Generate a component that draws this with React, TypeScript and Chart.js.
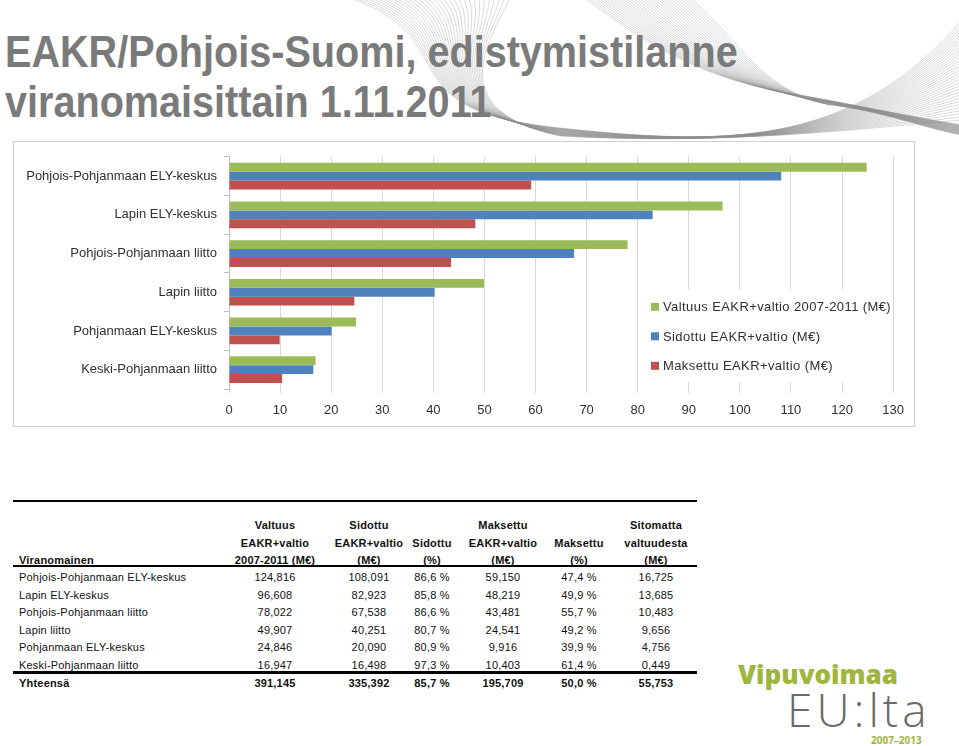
import React, { useEffect, useRef } from "react";
import { Chart, registerables } from "chart.js";

Chart.register(...registerables);

// ---------- data ----------
const categories = [
  "Pohjois-Pohjanmaan ELY-keskus",
  "Lapin ELY-keskus",
  "Pohjois-Pohjanmaan liitto",
  "Lapin liitto",
  "Pohjanmaan ELY-keskus",
  "Keski-Pohjanmaan liitto",
];
const seriesLabels = [
  "Valtuus EAKR+valtio 2007-2011 (M€)",
  "Sidottu EAKR+valtio (M€)",
  "Maksettu EAKR+valtio (M€)",
];
const valtuus = [124.816, 96.608, 78.022, 49.907, 24.846, 16.947];
const sidottu = [108.091, 82.923, 67.538, 40.251, 20.09, 16.498];
const maksettu = [59.15, 48.219, 43.481, 24.541, 9.916, 10.403];
const seriesColors = ["#9bbb59", "#4f81bd", "#c0504d"];
const xMin = 0;
const xMax = 130;
const xStep = 10;

// table texts
const valtuusText = ["124,816", "96,608", "78,022", "49,907", "24,846", "16,947"];
const sidottuText = ["108,091", "82,923", "67,538", "40,251", "20,090", "16,498"];
const sidottuPct = ["86,6 %", "85,8 %", "86,6 %", "80,7 %", "80,9 %", "97,3 %"];
const maksettuText = ["59,150", "48,219", "43,481", "24,541", "9,916", "10,403"];
const maksettuPct = ["47,4 %", "49,9 %", "55,7 %", "49,2 %", "39,9 %", "61,4 %"];
const sitomattaText = ["16,725", "13,685", "10,483", "9,656", "4,756", "0,449"];
const totalRow = ["Yhteensä", "391,145", "335,392", "85,7 %", "195,709", "50,0 %", "55,753"];
const headerLines = [
  ["", "", "Viranomainen"],
  ["Valtuus", "EAKR+valtio", "2007-2011 (M€)"],
  ["Sidottu", "EAKR+valtio", "(M€)"],
  ["", "Sidottu", "(%)"],
  ["Maksettu", "EAKR+valtio", "(M€)"],
  ["", "Maksettu", "(%)"],
  ["Sitomatta", "valtuudesta", "(M€)"],
];

const FONT = "'Liberation Sans', Arial, Helvetica, sans-serif";

const insideLegend = {
  id: "insideLegend",
  afterDraw(chart: any) {
    const ctx = chart.ctx as CanvasRenderingContext2D;
    const a = chart.chartArea;
    ctx.save();
    ctx.fillStyle = "#ffffff";
    ctx.fillRect(a.left + 416, a.top + 133, 248, 92);
    ctx.font = `13px ${FONT}`;
    (ctx as any).letterSpacing = "0.4px";
    ctx.textBaseline = "middle";
    ctx.textAlign = "left";
    chart.data.datasets.forEach((ds: any, i: number) => {
      const x = a.left + 422;
      const y = a.top + 150 + i * 29.5;
      ctx.fillStyle = ds.backgroundColor;
      ctx.fillRect(x, y - 4, 8, 8);
      ctx.fillStyle = "#303030";
      ctx.fillText(ds.label, x + 12, y + 1);
    });
    ctx.restore();
  },
};

function BarChart() {
  const ref = useRef<HTMLCanvasElement | null>(null);
  useEffect(() => {
    if (!ref.current) return;
    const seriesData = [valtuus, sidottu, maksettu];
    const chart = new Chart(ref.current, {
      type: "bar",
      data: {
        labels: categories,
        datasets: seriesData.map((d, i) => ({
          label: seriesLabels[i],
          data: d,
          backgroundColor: seriesColors[i],
          borderWidth: 0,
          barPercentage: 1,
          categoryPercentage: 0.69,
        })),
      },
      options: {
        indexAxis: "y",
        animation: false,
        responsive: false,
        devicePixelRatio: 1,
        layout: { padding: { top: 13, right: 17, left: 0, bottom: 0 } },
        plugins: {
          legend: { display: false },
          tooltip: { enabled: false },
        },
        scales: {
          x: {
            min: xMin,
            max: xMax,
            ticks: {
              stepSize: xStep,
              color: "#303030",
              font: { size: 13, family: FONT },
              padding: 10,
            },
            grid: { color: "#d9d9d9", tickLength: 4 },
            border: { display: false },
            afterFit: (s: any) => {
              s.height = 37;
            },
          },
          y: {
            ticks: {
              color: "#303030",
              font: { size: 13, family: FONT },
              padding: 7,
            },
            grid: {
              drawOnChartArea: false,
              tickLength: 5,
              color: "#bfbfbf",
              offset: true,
            },
            border: { display: true, color: "#bfbfbf" },
            afterFit: (s: any) => {
              s.width = 215;
            },
          },
        },
      } as any,
      plugins: [insideLegend],
    });
    return () => chart.destroy();
  }, []);
  return <canvas ref={ref} width={900} height={284} style={{ display: "block" }} />;
}

function Ribbons() {
  const n = 32;
  const a: string[] = [];
  const b: string[] = [];
  for (let i = 0; i < n; i++) {
    const t = i / (n - 1);
    a.push(
      `M ${350 + 160 * t} -2 C ${470 + 20 * t} 40 ${380 + 60 * t} 110 ${560} ${128 + 8 * t} C 720 145 850 ${150 - 20 * t} 962 ${20 + 100 * t}`
    );
    b.push(
      `M ${585 + 105 * t} -2 C ${640 + 100 * t} 40 ${700 + 60 * t} ${80 + 10 * t} ${800 + 30 * t} ${95 + 10 * t} C 880 110 930 ${120 + 10 * t} 962 ${125 + 10 * t}`
    );
  }
  return (
    <svg
      width={959}
      height={145}
      style={{ position: "absolute", left: 0, top: 0 }}
    >
      {a.map((d, i) => (
        <path key={"a" + i} d={d} fill="none" stroke="#8c8c8c" strokeWidth={0.6} opacity={0.55} />
      ))}
      {b.map((d, i) => (
        <path key={"b" + i} d={d} fill="none" stroke="#8c8c8c" strokeWidth={0.6} opacity={0.55} />
      ))}
    </svg>
  );
}

const colCenters = [0, 275, 369, 432, 503, 579, 656];

function Cell(props: { col: number; y: number; text: string; bold?: boolean }) {
  const { col, y, text, bold } = props;
  const style: React.CSSProperties = {
    position: "absolute",
    top: y - 7,
    height: 14,
    lineHeight: "14px",
    fontSize: 11,
    fontWeight: bold ? 700 : 400,
    whiteSpace: "nowrap",
    letterSpacing: "0.2px",
    color: "#111",
  };
  if (col === 0) {
    style.left = 19;
  } else {
    style.left = colCenters[col] - 60;
    style.width = 120;
    style.textAlign = "center";
  }
  return <div style={style}>{text}</div>;
}

function DataTable() {
  const cells: React.ReactNode[] = [];
  const headerY = [525, 542.5, 560];
  headerLines.forEach((lines, c) =>
    lines.forEach((t, r) => {
      if (t) cells.push(<Cell key={`h${c}-${r}`} col={c} y={headerY[r]} text={t} bold />);
    })
  );
  const cols = [categories, valtuusText, sidottuText, sidottuPct, maksettuText, maksettuPct, sitomattaText];
  categories.forEach((_, r) => {
    const y = 577 + r * 17.5;
    cols.forEach((col, c) => cells.push(<Cell key={`d${r}-${c}`} col={c} y={y} text={col[r]} />));
  });
  totalRow.forEach((t, c) => cells.push(<Cell key={`t${c}`} col={c} y={683} text={t} bold />));
  const line = (top: number, h: number) => (
    <div style={{ position: "absolute", left: 13, width: 684, top, height: h, background: "#000" }} />
  );
  return (
    <>
      {line(500, 2)}
      {line(565, 2)}
      {line(671, 2.5)}
      {cells}
    </>
  );
}

export default function App() {
  return (
    <div
      style={{
        position: "absolute",
        left: 0,
        top: 0,
        width: 959,
        height: 746,
        overflow: "hidden",
        background: "#fff",
        fontFamily: FONT,
      }}
    >
      <Ribbons />
      <div
        style={{
          position: "absolute",
          left: 5,
          top: 27,
          fontFamily: FONT,
          fontWeight: 700,
          fontSize: 44,
          lineHeight: "50px",
          color: "#7a7a7a",
          whiteSpace: "nowrap",
          transform: "scaleX(0.9)",
          transformOrigin: "0 0",
        }}
      >
        <div>EAKR/Pohjois-Suomi, edistymistilanne</div>
        <div>viranomaisittain 1.11.2011</div>
      </div>
      <div
        style={{
          position: "absolute",
          left: 13,
          top: 141,
          width: 900,
          height: 284,
          border: "1px solid #d0d0d0",
          background: "#fff",
        }}
      >
        <BarChart />
      </div>
      <DataTable />
      <div
        style={{
          position: "absolute",
          left: 738,
          top: 659,
          fontFamily: "'Open Sans', sans-serif",
          fontWeight: 800,
          fontSize: 26,
          lineHeight: "30px",
          color: "#9db63b",
          whiteSpace: "nowrap",
        }}
      >
        Vipuvoimaa
      </div>
      <div
        style={{
          position: "absolute",
          left: 787,
          top: 682,
          fontFamily: "'Open Sans', sans-serif",
          fontWeight: 300,
          fontSize: 46,
          lineHeight: "54px",
          letterSpacing: "4px",
          color: "#6a6a6a",
          whiteSpace: "nowrap",
        }}
      >
        EU:lta
      </div>
      <div
        style={{
          position: "absolute",
          left: 871,
          top: 734,
          fontFamily: "'Open Sans', sans-serif",
          fontWeight: 700,
          fontSize: 10,
          lineHeight: "12px",
          color: "#9db63b",
          whiteSpace: "nowrap",
        }}
      >
        2007–2013
      </div>
    </div>
  );
}
